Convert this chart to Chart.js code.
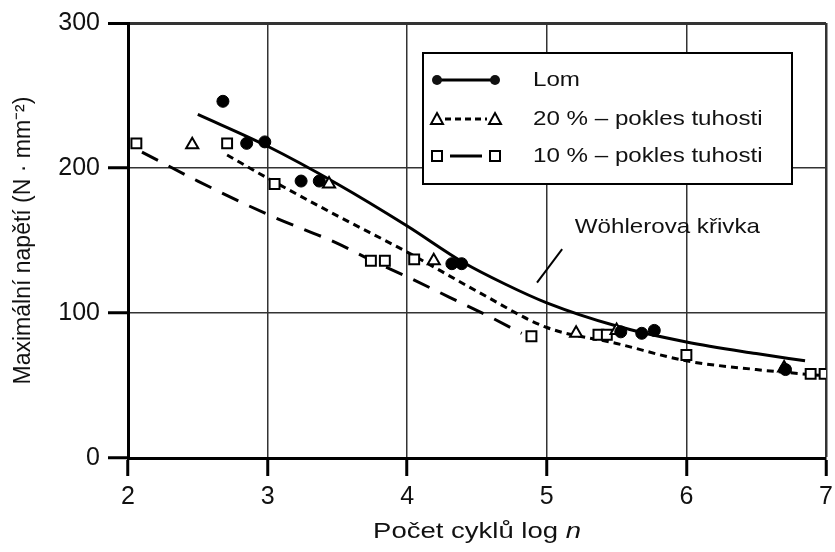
<!DOCTYPE html>
<html>
<head>
<meta charset="utf-8">
<script src="https://cdn.jsdelivr.net/npm/chart.js@4.4.1/dist/chart.umd.min.js"></script>
<style>
  html, body { margin: 0; padding: 0; background: #fff; }
</style>
</head>
<body>
<canvas id="woehler-chart" width="835" height="552"></canvas>
<script>

  // measured points
  var lom_x = [2.68, 2.85, 2.98, 3.24, 3.37, 4.32, 4.39, 5.53, 5.68, 5.77, 6.71];
  var lom_y = [246, 217, 218, 191, 191, 134, 134, 87, 86, 88, 61];

  var pokles20_x = [2.46, 3.44, 4.19, 5.21, 5.5, 6.7];
  var pokles20_y = [216, 189, 136, 86, 88, 62];

  var pokles10_x = [2.06, 2.71, 3.05, 3.74, 3.84, 4.05, 4.89, 5.37, 5.43, 6.0, 6.89, 6.99];
  var pokles10_y = [217, 217, 189, 136, 136, 137, 84, 85, 85, 71, 58, 58];

  // fitted curves
  var krivka_lom_x = [2.5, 3.0, 3.5, 4.0, 4.4, 4.7, 5.0, 5.5, 6.0, 6.5, 6.85];
  var krivka_lom_y = [237, 215, 189, 160, 135, 120, 107, 91, 80, 72, 67];

  var krivka20_x = [2.71, 3.0, 3.5, 4.0, 4.5, 5.0, 5.5, 6.0, 6.5, 6.95];
  var krivka20_y = [209, 193, 167, 142, 115, 90, 79, 67, 61, 57];

  var krivka10_x = [2.1, 2.5, 3.0, 3.5, 3.75, 4.0, 4.3, 4.6, 4.82];
  var krivka10_y = [211, 191, 168, 148, 136, 125, 111, 97, 86];

  var x_ticks = [2, 3, 4, 5, 6, 7];
  var y_ticks = [0, 100, 200, 300];

  var legend_labels = ['Lom', '20 % \u2013 pokles tuhosti', '10 % \u2013 pokles tuhosti'];

  function pts(xs, ys) {
    return xs.map(function (x, i) { return {x: x, y: ys[i]}; });
  }

  function stretchText(ctx, text, x, y, sx) {
    ctx.save();
    ctx.translate(x, y);
    ctx.scale(sx, 1);
    ctx.fillText(text, 0, 0);
    ctx.restore();
  }

  var textPlugin = {
    id: 'textPlugin',
    afterDraw: function (chart) {
      var ctx = chart.ctx;
      var xs = chart.scales.x, ys = chart.scales.y;
      var area = chart.chartArea;
      ctx.save();
      ctx.fillStyle = '#111';
      ctx.strokeStyle = '#000';
      ctx.textBaseline = 'middle';

      // x title with italic n
      var t1 = 'Po\u010det cykl\u016f log ';
      ctx.font = '22px "Liberation Sans"';
      var w1 = ctx.measureText(t1).width * 1.25;
      ctx.font = 'italic 22px "Liberation Sans"';
      var w2 = ctx.measureText('n').width * 1.25;
      var cx = (area.left + area.right) / 2;
      var sx0 = cx - (w1 + w2) / 2;
      ctx.textAlign = 'left';
      ctx.font = '22px "Liberation Sans"';
      stretchText(ctx, t1, sx0, 532, 1.25);
      ctx.font = 'italic 22px "Liberation Sans"';
      stretchText(ctx, 'n', sx0 + w1, 532, 1.25);

      // Wöhler label + leader line
      ctx.font = '21px "Liberation Sans"';
      stretchText(ctx, 'W\u00f6hlerova k\u0159ivka', xs.getPixelForValue(5.2), ys.getPixelForValue(159), 1.15);
      ctx.lineWidth = 2;
      ctx.beginPath();
      ctx.moveTo(xs.getPixelForValue(5.11), ys.getPixelForValue(144));
      ctx.lineTo(xs.getPixelForValue(4.93), ys.getPixelForValue(121));
      ctx.stroke();

      // legend box
      var bl = area.left + 295, bt = area.top + 30, bw = 369, bh = 131;
      ctx.fillStyle = '#fff';
      ctx.fillRect(bl, bt, bw, bh);
      ctx.lineWidth = 2;
      ctx.strokeRect(bl, bt, bw, bh);
      ctx.fillStyle = '#111';
      var rows = [bt + 27, bt + 66, bt + 103];
      var a = bl + 14, b = bl + 72;

      // Lom
      ctx.lineWidth = 3;
      ctx.setLineDash([]);
      ctx.beginPath(); ctx.moveTo(a, rows[0]); ctx.lineTo(b, rows[0]); ctx.stroke();
      [a, b].forEach(function (px) {
        ctx.beginPath(); ctx.arc(px, rows[0], 5, 0, Math.PI * 2); ctx.fill();
      });
      // 20 %
      ctx.setLineDash([6, 4]);
      ctx.beginPath(); ctx.moveTo(a + 8, rows[1]); ctx.lineTo(b - 8, rows[1]); ctx.stroke();
      ctx.setLineDash([]);
      ctx.lineWidth = 2;
      [a, b].forEach(function (px) {
        ctx.beginPath();
        ctx.moveTo(px, rows[1] - 6); ctx.lineTo(px + 6, rows[1] + 5); ctx.lineTo(px - 6, rows[1] + 5);
        ctx.closePath(); ctx.stroke();
      });
      // 10 %
      ctx.lineWidth = 3;
      ctx.beginPath(); ctx.moveTo(a + 13, rows[2]); ctx.lineTo(b - 13, rows[2]); ctx.stroke();
      ctx.lineWidth = 2;
      [a, b].forEach(function (px) {
        ctx.strokeRect(px - 5, rows[2] - 5, 10, 10);
      });

      ctx.font = '21px "Liberation Sans"';
      legend_labels.forEach(function (lab, i) {
        stretchText(ctx, lab, bl + 110, rows[i], 1.15);
      });
      ctx.restore();
    }
  };

  var woehler = {
    type: 'scatter',
    data: {
      datasets: [
        { data: pts(krivka_lom_x, krivka_lom_y), showLine: true, pointRadius: 0,
          borderColor: '#000', borderWidth: 3, cubicInterpolationMode: 'monotone', order: 2 },
        { data: pts(krivka20_x, krivka20_y), showLine: true, pointRadius: 0,
          borderColor: '#000', borderWidth: 3, borderDash: [7, 5], cubicInterpolationMode: 'monotone', order: 2 },
        { data: pts(krivka10_x, krivka10_y), showLine: true, pointRadius: 0,
          borderColor: '#000', borderWidth: 3, borderDash: [18, 12], cubicInterpolationMode: 'monotone', order: 2 },
        { label: legend_labels[0], data: pts(lom_x, lom_y), pointStyle: 'circle', pointRadius: 6,
          backgroundColor: '#000', borderColor: '#000', order: 1 },
        { label: legend_labels[1], data: pts(pokles20_x, pokles20_y), pointStyle: 'triangle', pointRadius: 7,
          backgroundColor: '#fff', borderColor: '#000', borderWidth: 2, order: 1 },
        { label: legend_labels[2], data: pts(pokles10_x, pokles10_y), pointStyle: 'rect', pointRadius: 7,
          backgroundColor: '#fff', borderColor: '#000', borderWidth: 2, order: 1 }
      ]
    },
    options: {
      responsive: false,
      animation: false,
      layout: { padding: { top: 20, right: 2, left: 0, bottom: 0 } },
      plugins: { legend: { display: false }, tooltip: { enabled: false } },
      scales: {
        x: {
          type: 'linear', min: 2, max: 7,
          afterBuildTicks: function (s) { s.ticks = x_ticks.map(function (v) { return {value: v}; }); },
          afterFit: function (s) { s.height = 94; s.paddingRight = 6; s.paddingLeft = 0; },
          ticks: { color: '#111', font: { family: 'Liberation Sans', size: 25 }, padding: 6 },
          grid: {
            color: '#333', tickColor: '#000', tickLength: 18, tickWidth: 3,
            lineWidth: function (c) { return c.index === x_ticks.length - 1 ? 2.5 : 1.5; }
          },
          border: { display: true, color: '#000', width: 3 }
        },
        y: {
          min: 0, max: 300,
          afterBuildTicks: function (s) { s.ticks = y_ticks.map(function (v) { return {value: v}; }); },
          afterFit: function (s) { s.width = 128; },
          ticks: { color: '#111', font: { family: 'Liberation Sans', size: 25 }, padding: 8 },
          grid: {
            color: '#333', tickColor: '#000', tickLength: 20, tickWidth: 3,
            lineWidth: function (c) { return c.index === y_ticks.length - 1 ? 3 : 1.5; }
          },
          border: { display: true, color: '#000', width: 3 },
          title: { display: true, text: 'Maxim\u00e1ln\u00ed nap\u011bt\u00ed (N \u00b7 mm\u207b\u00b2)',
                   color: '#111', font: { family: 'Liberation Sans', size: 23 }, padding: { top: 10, bottom: 0 } }
        }
      }
    },
    plugins: [textPlugin]
  };

  window.onload = function () {
    var w = document.getElementById('woehler-chart').getContext('2d');
    window.myChart = new Chart(w, woehler);
  };

</script>
</body>
</html>
